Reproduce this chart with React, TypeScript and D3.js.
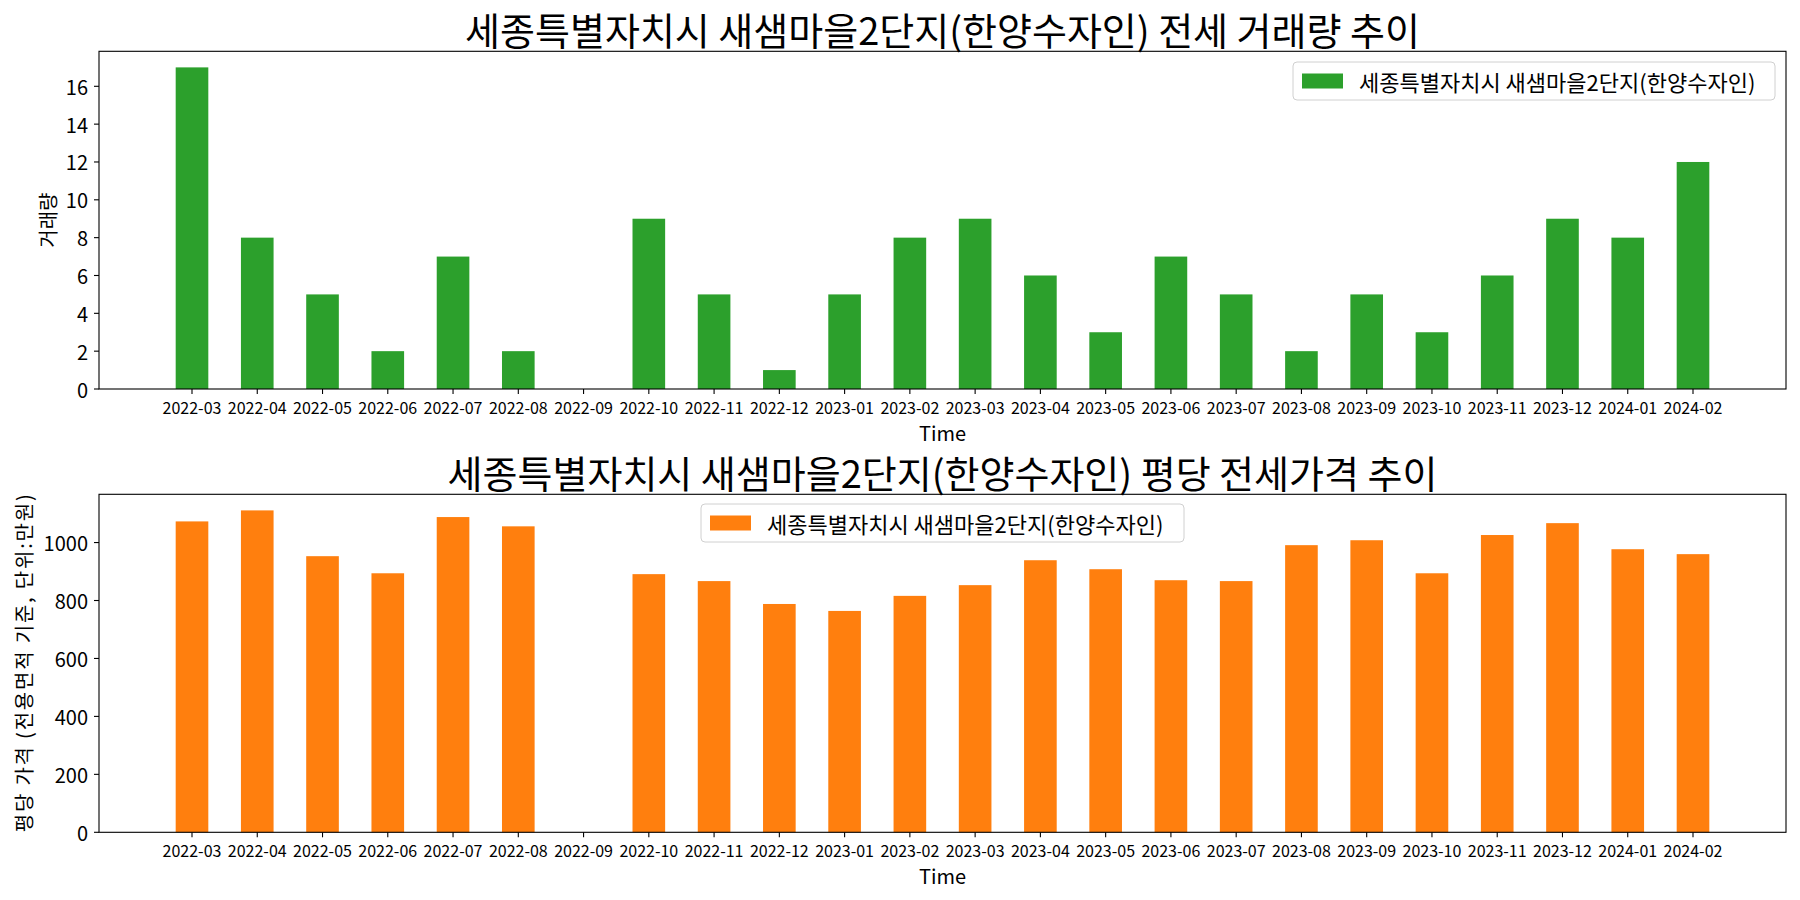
import React from "react";
import * as d3 from "d3";

const months = [
  "2022-03","2022-04","2022-05","2022-06","2022-07","2022-08","2022-09","2022-10","2022-11","2022-12",
  "2023-01","2023-02","2023-03","2023-04","2023-05","2023-06","2023-07","2023-08","2023-09","2023-10",
  "2023-11","2023-12","2024-01","2024-02",
];
const volumes = [17, 8, 5, 2, 7, 2, 0, 9, 5, 1, 5, 8, 9, 6, 3, 7, 5, 2, 5, 3, 6, 9, 8, 12];
const prices: (number | null)[] = [
  1073, 1111, 953, 894, 1088, 1056, null, 891, 867, 788, 764, 816, 853, 939, 908, 870, 867, 991,
  1008, 894, 1026, 1067, 977, 960,
];
const volTicks = [0, 2, 4, 6, 8, 10, 12, 14, 16];
const priceTicks = [0, 200, 400, 600, 800, 1000];
const seriesName = "세종특별자치시 새샘마을2단지(한양수자인)";
const title1 = "세종특별자치시 새샘마을2단지(한양수자인) 전세 거래량 추이";
const title2 = "세종특별자치시 새샘마을2단지(한양수자인) 평당 전세가격 추이";
const yLabel1 = "거래량";
const yLabel2 = "평당 가격 (전용면적 기준, 단위:만원)";
const xLabel = "Time";

const FONT = "'Noto Sans CJK KR', 'Noto Sans', sans-serif";
const W = 1800;
const H = 900;
const LEFT = 99;
const RIGHT = 1786;

type PanelProps = {
  top: number;
  bottom: number;
  values: (number | null)[];
  ticks: number[];
  ymax: number;
  color: string;
  title: string;
  titleY: number;
  yLabel: string;
  yLabelX: number;
  yLabelLen?: number;
  legend: { x: number; y: number; w: number; h: number };
};

function Panel(p: PanelProps) {
  const n = months.length;
  const x = d3.scaleLinear().domain([-1.425, n - 1 + 1.425]).range([LEFT, RIGHT]);
  const y = d3.scaleLinear().domain([0, p.ymax]).range([p.bottom, p.top]);
  const bw = x(0.5) - x(0);
  return (
    <g>
      <text x={(LEFT + RIGHT) / 2} y={p.titleY} textAnchor="middle" dominantBaseline="central" fontSize={38} fontFamily={FONT}>
        {p.title}
      </text>
      {p.values.map((v, i) =>
        v == null ? null : (
          <rect key={i} x={x(i) - bw / 2} y={y(v)} width={bw} height={p.bottom - y(v)} fill={p.color} />
        )
      )}
      <rect x={LEFT} y={p.top} width={RIGHT - LEFT} height={p.bottom - p.top} fill="none" stroke="#000" strokeWidth={1.1} />
      {p.ticks.map((t) => (
        <g key={t}>
          <line x1={LEFT - 5} x2={LEFT} y1={y(t)} y2={y(t)} stroke="#000" strokeWidth={1.1} />
          <text x={LEFT - 11} y={y(t)} textAnchor="end" dominantBaseline="central" fontSize={20} fontFamily={FONT}>
            {t}
          </text>
        </g>
      ))}
      {months.map((m, i) => (
        <g key={m}>
          <line x1={x(i)} x2={x(i)} y1={p.bottom} y2={p.bottom + 5} stroke="#000" strokeWidth={1.1} />
          <text x={x(i)} y={p.bottom + 18} textAnchor="middle" dominantBaseline="central" fontSize={16} fontFamily={FONT}>
            {m}
          </text>
        </g>
      ))}
      <text x={(LEFT + RIGHT) / 2} y={p.bottom + 43} textAnchor="middle" dominantBaseline="central" fontSize={20} fontFamily={FONT}>
        {xLabel}
      </text>
      <text
        transform={`translate(${p.yLabelX},${(p.top + p.bottom) / 2}) rotate(-90)`}
        textAnchor="middle"
        dominantBaseline="central"
        fontSize={20}
        fontFamily={FONT}
        textLength={p.yLabelLen}
        lengthAdjust={p.yLabelLen ? "spacing" : undefined}
      >
        {p.yLabel}
      </text>
      <g>
        <rect x={p.legend.x} y={p.legend.y} width={p.legend.w} height={p.legend.h} rx={4} fill="#fff" fillOpacity={0.8} stroke="#d0d0d0" strokeWidth={1} />
        <rect x={p.legend.x + 9} y={p.legend.y + p.legend.h / 2 - 7.5} width={41} height={15} fill={p.color} />
        <text x={p.legend.x + 66} y={p.legend.y + p.legend.h / 2} dominantBaseline="central" fontSize={22} fontFamily={FONT}>
          {seriesName}
        </text>
      </g>
    </g>
  );
}

export default function App() {
  return (
    <svg width={W} height={H} style={{ display: "block", position: "absolute", left: 0, top: 0 }} fontFamily={FONT}>
      <rect width={W} height={H} fill="#fff" />
      <Panel
        top={51.3}
        bottom={389}
        values={volumes}
        ticks={volTicks}
        ymax={17 * 1.05}
        color="#2ca02c"
        title={title1}
        titleY={28}
        yLabel={yLabel1}
        yLabelX={47}
        legend={{ x: 1293, y: 62, w: 482, h: 38 }}
      />
      <Panel
        top={494.3}
        bottom={832.3}
        values={prices}
        ticks={priceTicks}
        ymax={1111 * 1.05}
        color="#ff7f0e"
        title={title2}
        titleY={471}
        yLabel={yLabel2}
        yLabelX={23}
        yLabelLen={338}
        legend={{ x: 701, y: 504, w: 483, h: 38 }}
      />
    </svg>
  );
}
